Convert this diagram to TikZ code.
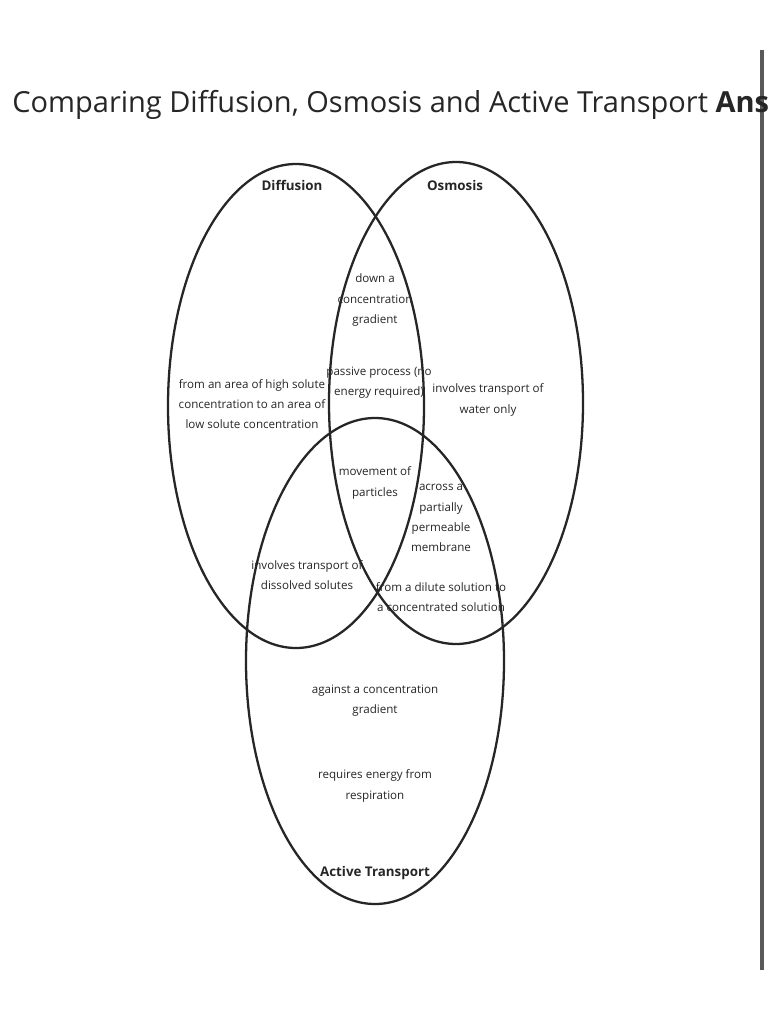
\documentclass[tikz,border=0pt]{standalone}
\usepackage{fontspec}
\setmainfont{Open Sans}
\usetikzlibrary{positioning}

\tikzset{
  set/.style   = {draw=black!85, line width=1.3pt},
  label/.style = {font=\fontsize{6.6}{11.5}\selectfont, align=center, inner sep=0pt, text=black!85},
  head/.style  = {font=\fontsize{7.6}{10}\selectfont\bfseries, inner sep=0pt, text=black!85}
}

\begin{document}
\begin{tikzpicture}[x=0.02cm, y=-0.02cm]
  \useasboundingbox (0,0) rectangle (768,1024);
  \fill[white] (0,0) rectangle (768,1024);

  % Page edge
  \draw[black!65, line width=2pt] (762,50) -- (762,970);

  % Title
  \node[anchor=west, inner sep=0pt, font=\fontsize{16.5}{20}\selectfont, text=black!85] (title) at (12,105)
    {Comparing Diffusion, Osmosis and Active Transport \textbf{Answers}};

  % Sets
  \draw[set] (296,406) ellipse [x radius=128, y radius=242];
  \draw[set] (456,403) ellipse [x radius=127, y radius=241];
  \draw[set] (375,661) ellipse [x radius=129, y radius=243];

  % Set names
  \node[head] (dif) at (292,185) {Diffusion};
  \node[head] (osm) at (455,185) {Osmosis};
  \node[head] (act) at (375,873) {Active Transport};

  % Region texts
  \node[label] (difonly) at (252,404) {from an area of high solute\\concentration to an area of\\low solute concentration};
  \node[label] (grad)    at (375,300) {down a\\concentration\\gradient};
  \node[label] (passive) at (379,383) {passive process (no\\energy required)};
  \node[label] (water)   at (488,400) {involves transport of\\water only};
  \node[label] (part)    at (375,483) {movement of\\particles};
  \node[label] (memb)    at (441,518) {across a\\partially\\permeable\\membrane};
  \node[label] (dilute)  at (441,597) {from a dilute solution to\\a concentrated solution};
  \node[label] (solutes) at (307,575) {involves transport of\\dissolved solutes};
  \node[label] (against) at (375,701) {against a concentration\\gradient};
  \node[label] (energy)  at (375,786) {requires energy from\\respiration};
\end{tikzpicture}
\end{document}
